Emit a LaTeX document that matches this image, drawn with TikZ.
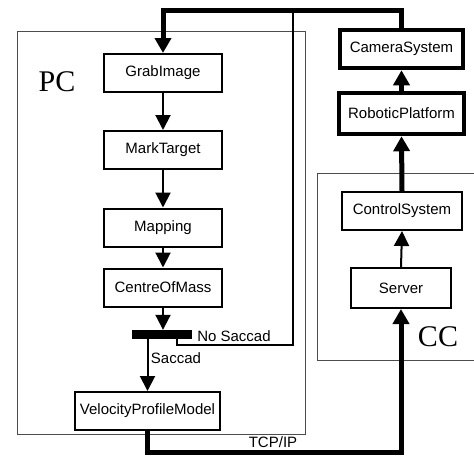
\documentclass[tikz,border=0pt]{standalone}
\usepackage{fontspec}
\setmainfont{Liberation Sans}
\newfontfamily\serifbig{Liberation Serif}
\usetikzlibrary{arrows.meta}
\begin{document}
\begin{tikzpicture}[x=1pt,y=-1pt,
  box/.style={draw=black,line width=2pt,rectangle,inner sep=0pt,minimum width=118pt,minimum height=38pt,font=\fontsize{15}{17}\selectfont},
  bigbox/.style={box,line width=4.5pt},
  frame/.style={draw=black!70,line width=1pt},
  thinarr/.style={line width=2pt,-{Triangle[length=15pt,width=15pt]}},
  thickarr/.style={line width=5pt,-{Triangle[length=15pt,width=16pt]}},
  thickline/.style={line width=5pt},
  lbl/.style={font=\fontsize{15}{17}\selectfont,inner sep=0pt,anchor=base},
  biglbl/.style={font=\serifbig\fontsize{30}{32}\selectfont,inner sep=0pt}
]
\useasboundingbox (0,0) rectangle (474,458);
\fill[white] (0,0) rectangle (474,458);
% frames
\draw[frame] (17,31) rectangle (305,434);
\draw[frame] (480,173) -- (317,173) -- (317,360) -- (480,360);
\node[biglbl] (pc) at (57,82) {PC};
\node[biglbl] (cc) at (438,337) {CC};
% PC nodes
\node[box] (grab) at (163,73) {GrabImage};
\node[box] (mark) at (163,150) {MarkTarget};
\node[box] (map) at (163,227.5) {Mapping};
\node[box] (com) at (163,287.5) {CentreOfMass};
\node[fill=black,inner sep=0pt,minimum width=60pt,minimum height=9pt] (bar) at (162,334.5) {};
\node[box,minimum width=145pt] (vpm) at (147.5,411) {VelocityProfileModel};
% right nodes
\node[bigbox,minimum width=123pt] (cam) at (401.5,49) {CameraSystem};
\node[bigbox,minimum width=125pt,minimum height=41pt] (rob) at (401.5,113.5) {RoboticPlatform};
\node[box,minimum width=120pt] (ctrl) at (402,211) {ControlSystem};
\node[box,minimum width=100pt,minimum height=40pt] (srv) at (401,288) {Server};
% coordinates
\coordinate (top) at (280,10);
\coordinate (nsa) at (177,339);
\coordinate (nsb) at (293,345);
\coordinate (nsc) at (293,10);
\coordinate (sac) at (147.5,339);
\coordinate (bot) at (280,452);
% connectors
\draw[thinarr] (grab) -- (mark);
\draw[thinarr] (mark) -- (map);
\draw[thinarr] (map) -- (com);
\draw[thinarr] (com.south) -- (bar.north -| com.south);
\draw[line width=2pt] (nsa) |- (nsb) -- (nsc);
\draw[thinarr] (sac) -- (vpm.north);
\node[lbl] (nosac) at (234,341) {No Saccad};
\node[lbl] (saclbl) at (176,363) {Saccad};
\draw[thickline,-{Triangle[length=15pt,width=16pt]},line join=miter] (cam.north) |- (top) -| (grab.north);
\draw[thickarr] (rob.north) -- (cam.south);
\draw[thickarr] (ctrl.north) -- (rob.south);
\draw[thinarr] (srv.north) -- (ctrl.south);
\draw[thickarr,line join=miter] (vpm.south) |- (bot) -| (srv.south);
\node[lbl] (tcp) at (273,447) {TCP/IP};
\end{tikzpicture}
\end{document}
